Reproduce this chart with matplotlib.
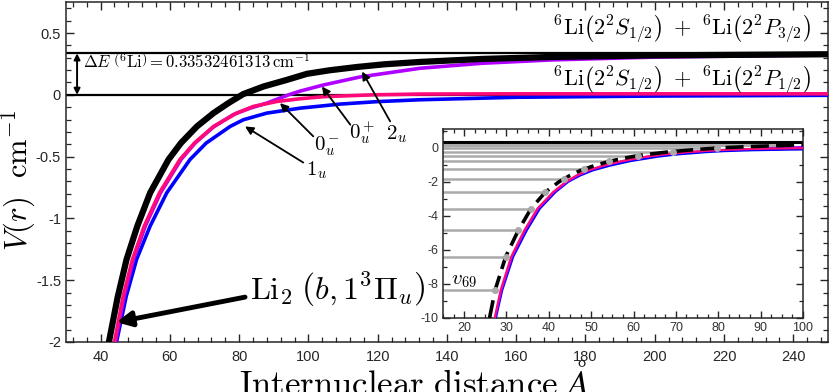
import numpy as np
import matplotlib
matplotlib.use('Agg')
import matplotlib.pyplot as plt
from matplotlib.ticker import MultipleLocator, FuncFormatter

plt.rcParams['mathtext.fontset'] = 'cm'
plt.rcParams['font.family'] = ['Liberation Sans', 'DejaVu Sans']
plt.rcParams['axes.unicode_minus'] = False

# potential curves (r in Angstrom, V in cm^-1)
r_black = [26, 27.3, 29.8, 32.8, 35.8, 39.2, 42.4, 44.9, 47.5, 50.6, 54.3, 59.6, 63.2,
           67.8, 72.6, 76.9, 81.2, 87.0, 93.8, 99.6, 106, 114, 122, 132.3, 150, 170, 200, 250]
V_black = [-10, -8.37, -6.4, -4.85, -3.57, -2.6, -2.0, -1.64, -1.331, -1.062, -0.793, -0.524, -0.39,
           -0.256, -0.148, -0.067, 0.006, 0.067, 0.121, 0.17, 0.198, 0.225, 0.247, 0.266, 0.29,
           0.306, 0.319, 0.328]

r_pink = [27.2, 28.6, 31.1, 34.2, 37.3, 41.0, 44.0, 46.5, 49.2, 52.6, 57.0, 62.9, 67.1,
          72.6, 79.3, 84.1, 90.9, 97.6, 104.4, 118.8, 132, 160, 250]
V_pink = [-10, -8.37, -6.4, -4.85, -3.57, -2.6, -2.0, -1.63, -1.331, -1.062, -0.793, -0.524, -0.39,
          -0.256, -0.148, -0.094, -0.054, -0.032, -0.015, 0.0, 0.006, 0.008, 0.008]

r_purple = [27.3, 28.8, 31.3, 34.4, 37.5, 41.2, 44.3, 46.8, 49.5, 52.9, 57.3, 63.2, 67.3,
            72.6, 78.3, 83, 88, 94.3, 97.6, 104.4, 115, 132.3, 150, 170, 200, 250]
V_purple = [-10, -8.37, -6.4, -4.85, -3.57, -2.6, -2.0, -1.63, -1.331, -1.062, -0.793, -0.524, -0.39,
            -0.26, -0.16, -0.11, -0.067, 0.0, 0.03, 0.08, 0.145, 0.215, 0.255, 0.282, 0.305, 0.322]

r_blue = [27.5, 29.0, 31.6, 34.8, 37.9, 41.6, 44.6, 47.4, 50.4, 54.3, 59.1, 65.8, 70.5,
          77.4, 81.2, 88, 97.6, 109.2, 120, 132.3, 160, 200, 250]
V_blue = [-10, -8.37, -6.4, -4.85, -3.57, -2.6, -2.0, -1.63, -1.331, -1.062, -0.793, -0.524, -0.39,
          -0.256, -0.202, -0.148, -0.108, -0.075, -0.055, -0.04, -0.02, -0.01, -0.004]

dE = 0.33532461313

# vibrational levels in the inset: energy and outer turning point
E_levels = [-8.37, -6.42, -4.82, -3.57, -2.6, -1.86, -1.25, -0.80, -0.47, -0.22, -0.02]
r_turn = [27.3, 29.8, 32.8, 35.8, 39.2, 43.5, 48.4, 54.2, 61.1, 69.3, 79.7]
E_top, r_top = 0.15, 96

pink = '#ff0a78'
purple = '#b000ff'
blue = '#0000ff'
gray = '#aaaaaa'
spine = '#262626'

fig = plt.figure(figsize=(8.3, 3.92), dpi=100)
ax = fig.add_axes([0.0795, 0.1276, 0.918, 0.867])

ax.axhline(dE, color='k', lw=1.6, zorder=2)
ax.axhline(0, color='k', lw=1.6, zorder=2)
ax.plot(r_blue, V_blue, color=blue, lw=2.6, zorder=3)
ax.plot(r_purple, V_purple, color=purple, lw=2.6, zorder=3)
ax.plot(r_pink, V_pink, color=pink, lw=2.6, zorder=3)
ax.plot(r_black, V_black, color='k', lw=4.5, zorder=4)

ax.set_xlim(30, 250)
ax.set_ylim(-2, 0.75)
ax.xaxis.set_major_locator(MultipleLocator(20))
ax.xaxis.set_minor_locator(MultipleLocator(4))
ax.yaxis.set_major_locator(MultipleLocator(0.5))
ax.yaxis.set_minor_locator(MultipleLocator(0.1))
ax.yaxis.set_major_formatter(FuncFormatter(lambda v, p: f'{v:g}'))
ax.tick_params(which='both', direction='in', top=True, right=True, colors=spine,
               labelsize=10.5, labelcolor=spine)
ax.tick_params(which='major', length=6, width=1)
ax.tick_params(which='minor', length=3.5, width=0.9)
ax.tick_params(axis='x', pad=6)
for s in ax.spines.values():
    s.set_color(spine)
    s.set_linewidth(1.1)

ax.set_xlabel(r'$\mathrm{Internuclear\ distance}\ \AA$', fontsize=25)
ax.xaxis.set_label_coords(0.457, -0.063)
ax.set_ylabel(r'$V(r)\ \ \mathrm{cm}^{-1}$', fontsize=22)
ax.yaxis.set_label_coords(-0.037, 0.476)

# energy gap between the two asymptotes
ax.annotate('', xy=(33.2, dE), xytext=(33.2, 0),
            arrowprops=dict(arrowstyle='<|-|>', lw=1.4, color='k', mutation_scale=9,
                            shrinkA=0, shrinkB=0))
ax.text(35, 0.268, r'$\Delta E\;\left({}^{6}\mathrm{Li}\right)=0.33532461313\,\mathrm{cm}^{-1}$',
        fontsize=12, va='center', ha='left')

ax.text(245, 0.53, r'${}^{6}\mathrm{Li}\left(2^{2}S_{1/2}\right)\ +\ {}^{6}\mathrm{Li}\left(2^{2}P_{3/2}\right)$',
        fontsize=16, ha='right', va='center')
ax.text(245, 0.12, r'${}^{6}\mathrm{Li}\left(2^{2}S_{1/2}\right)\ +\ {}^{6}\mathrm{Li}\left(2^{2}P_{1/2}\right)$',
        fontsize=16, ha='right', va='center')

# state labels with arrows
arrow_kw = dict(arrowstyle='-|>', lw=1.3, color='k', mutation_scale=12, shrinkA=0, shrinkB=0)
ax.annotate('', xy=(81.7, -0.256), xytext=(98.5, -0.548), arrowprops=arrow_kw)
ax.text(102.5, -0.61, r'$1_u$', fontsize=15, ha='center', va='center')
ax.annotate('', xy=(91.8, -0.067), xytext=(101.4, -0.336), arrowprops=arrow_kw)
ax.text(105.3, -0.42, r'$0_u^-$', fontsize=15, ha='center', va='center')
ax.annotate('', xy=(103.9, 0.067), xytext=(112.1, -0.242), arrowprops=arrow_kw)
ax.text(115.5, -0.31, r'$0_u^+$', fontsize=15, ha='center', va='center')
ax.annotate('', xy=(115.5, 0.188), xytext=(123.6, -0.215), arrowprops=arrow_kw)
ax.text(125.5, -0.32, r'$2_u$', fontsize=15, ha='center', va='center')

ax.annotate('', xy=(44.6, -1.84), xytext=(81.7, -1.637),
            arrowprops=dict(arrowstyle='-|>', lw=3.5, color='k', mutation_scale=22,
                            shrinkA=0, shrinkB=0))
ax.text(83, -1.575, r'$\mathrm{Li}_{2}\;\left(b,1^{3}\Pi_{u}\right)$', fontsize=23,
        ha='left', va='center')

# inset: deeper part of the well with vibrational levels
ins = fig.add_axes([0.5337, 0.1888, 0.4337, 0.482])
ins.axhline(dE, color='k', lw=2.2, zorder=2)
ins.plot([15, r_top], [E_top, E_top], color=gray, lw=2.2, zorder=2)
for E, rt in zip(E_levels, r_turn):
    ins.plot([15, rt], [E, E], color=gray, lw=1.8, zorder=2)
ins.plot(r_turn, E_levels, 'o', color=gray, ms=4, zorder=6)
ins.plot(r_blue, V_blue, color=blue, lw=1.5, zorder=3)
ins.plot(r_purple, V_purple, color=purple, lw=1.5, zorder=3)
ins.plot(r_pink, V_pink, color=pink, lw=1.5, zorder=4)
ins.plot(r_black, V_black, color='k', lw=2.6, ls=(0, (5, 2)), zorder=5)
ins.text(17, -7.8, r'$v_{69}$', fontsize=15, ha='left', va='center')

ins.set_xlim(15, 100)
ins.set_ylim(-10, 1.1)
ins.xaxis.set_major_locator(MultipleLocator(10))
ins.xaxis.set_minor_locator(MultipleLocator(2.5))
ins.yaxis.set_major_locator(MultipleLocator(2))
ins.yaxis.set_minor_locator(MultipleLocator(1))
ins.yaxis.set_major_formatter(FuncFormatter(lambda v, p: f'{v:g}'))
ins.tick_params(which='both', direction='in', top=True, right=True, colors=spine,
                labelsize=9, labelcolor='#333333', pad=3)
ins.tick_params(which='major', length=5, width=1)
ins.tick_params(which='minor', length=3, width=0.9)
for s in ins.spines.values():
    s.set_color(spine)
    s.set_linewidth(1.1)

fig.savefig('out.png', dpi=100)
